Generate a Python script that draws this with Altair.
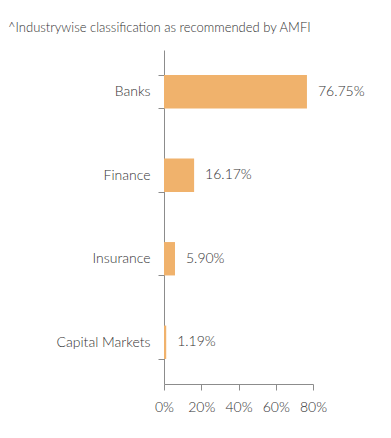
import altair as alt
import pandas as pd

categories = ["Banks", "Finance", "Insurance", "Capital Markets"]
values = [76.75, 16.17, 5.90, 1.19]
labels = ["76.75%", "16.17%", "5.90%", "1.19%"]
x_ticks = [0, 20, 40, 60, 80]

df = pd.DataFrame({"category": categories, "value": values, "label": labels})

FONT = "Lato"
WEIGHT = 300
AXIS_COLOR = "#8c8c8c"
TEXT_COLOR = "#333333"

y_enc = alt.Y(
    "category:N",
    sort=categories,
    scale=alt.Scale(paddingInner=0.6, paddingOuter=0.3),
    axis=alt.Axis(
        title=None,
        tickBand="extent",
        tickSize=6,
        labelPadding=8,
        labelFont=FONT,
        labelFontWeight=WEIGHT,
        labelFontSize=14,
        labelColor=TEXT_COLOR,
        domainColor=AXIS_COLOR,
        tickColor=AXIS_COLOR,
    ),
)

x_enc = alt.X(
    "value:Q",
    scale=alt.Scale(domain=[0, 80], nice=False),
    axis=alt.Axis(
        title=None,
        values=x_ticks,
        labelExpr="datum.value + '%'",
        labelOverlap=False,
        labelBound=False,
        labelFlush=False,
        grid=False,
        tickSize=6,
        labelPadding=10,
        labelFont=FONT,
        labelFontWeight=WEIGHT,
        labelFontSize=14,
        labelColor=TEXT_COLOR,
        domainColor=AXIS_COLOR,
        tickColor=AXIS_COLOR,
    ),
)

bars = alt.Chart(df).mark_bar(color="#f0b26c").encode(y=y_enc, x=x_enc)

text = alt.Chart(df).mark_text(
    align="left", baseline="middle", dx=11, font=FONT, fontWeight=WEIGHT,
    fontSize=14, color=TEXT_COLOR
).encode(y=y_enc, x=x_enc, text="label:N")

chart = (
    alt.layer(bars, text)
    .properties(
        width=149,
        height=334,
        autosize=alt.AutoSizeParams(type="none"),
        padding={"left": 156, "top": 42, "right": 70, "bottom": 40},
        title=alt.TitleParams(
            "^Industrywise classification as recommended by AMFI",
            anchor="start",
            frame="group",
            dx=-156,
            offset=8,
            font=FONT,
            fontSize=13,
            fontWeight=WEIGHT,
            color=TEXT_COLOR,
        ),
    )
    .configure_view(stroke=None)
)

chart.save("out.html", embed_options={"renderer": "svg", "actions": False})
